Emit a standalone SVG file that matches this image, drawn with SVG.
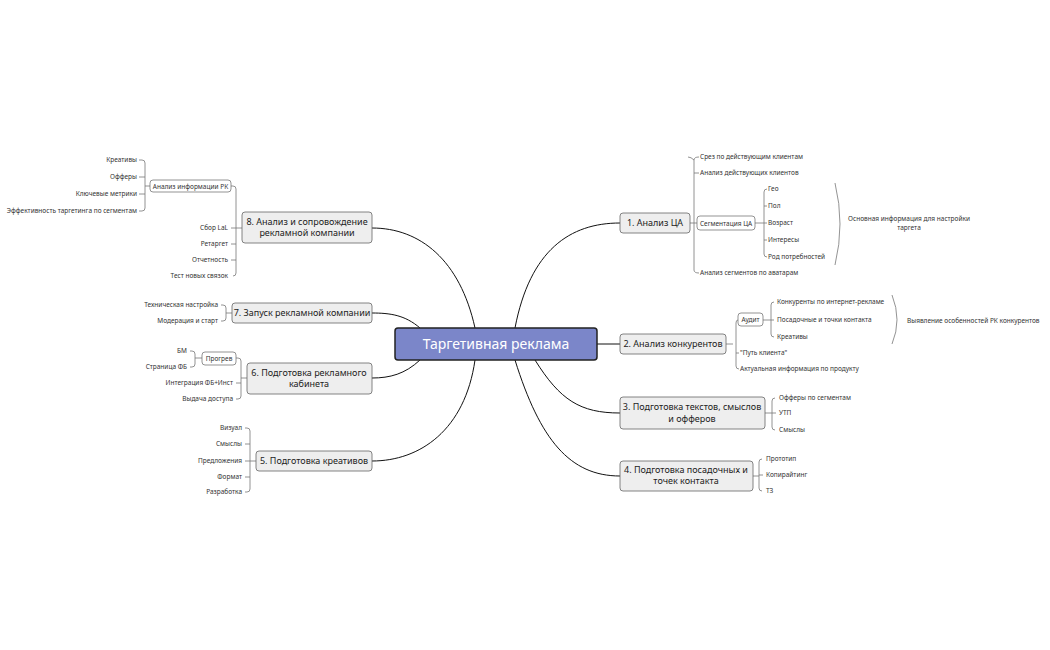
<svg xmlns="http://www.w3.org/2000/svg" width="1050" height="650" viewBox="0 0 1050 650">
<style>
text{font-family:"Noto Sans","Open Sans",sans-serif;fill:#333}
.m{font-size:9px;text-anchor:middle;fill:#222}
.s{font-size:6.5px}
.r{text-anchor:end}
.box{fill:#eeeeee;stroke:#666;stroke-width:0.8}
.sb{fill:#fff;stroke:#666;stroke-width:0.7}
.c{fill:none;stroke:#111;stroke-width:1}
.b{fill:none;stroke:#777;stroke-width:0.8}
</style>
<rect width="1050" height="650" fill="#fff"/>
<g id="connectors">
<path class="c" d="M515 328 C530 250 570 223 620 223"/>
<path class="c" d="M597 344 H620"/>
<path class="c" d="M535 360 C560 400 580 413 620 413"/>
<path class="c" d="M515 360 C540 440 570 476 620 476"/>
<path class="c" d="M475 328 C460 260 420 228 372 228"/>
<path class="c" d="M420 328 C405 315 390 313 372 313"/>
<path class="c" d="M420 360 C405 374 390 378 372 378"/>
<path class="c" d="M475 360 C465 430 420 461 372 461"/>
<!-- node1 -->
<path class="b" d="M690 223 H697 M694 160 Q691 157 688 157 M694 160 V270 M694 160 Q694 157 699 157 M694 173 H699 M694 270 Q694 273 699 273 M755 223 H764 M764 192 Q764 189 767 189 M764 192 V254 Q764 257 767 257 M764 206 H767 M764 223 H767 M764 240 H767 M835 183 Q845 224 835 265"/>
<!-- node2 -->
<path class="b" d="M726 344 H733 M736 323 V366 Q736 369 739 369 M736 323 Q736 320 738 320 M736 353 H739 M763 320 H771 M771 305 Q771 302 774 302 M771 305 V334 Q771 337 774 337 M771 320 H774 M892 295 Q902 320 892 344"/>
<!-- node3 -->
<path class="b" d="M765 413 H772 M772 401 Q772 398 775 398 M772 401 V427 Q772 430 775 430 M772 413 H776"/>
<!-- node4 -->
<path class="b" d="M753 476 H759 M759 462 Q759 459 762 459 M759 462 V488 Q759 491 762 491 M759 475 H763"/>
<!-- node8 -->
<path class="b" d="M242 228 H236 M231 186 H233 Q236 186 236 189 V273 Q236 276 233 276 M236 228 H231 M236 244 H231 M236 260 H231 M150 186 H145 M139 160 H142 Q145 160 145 163 V208 Q145 211 142 211 H139 M145 177 H139 M145 194 H139"/>
<!-- node7 -->
<path class="b" d="M232 313 H226 M221 305 H223 Q226 305 226 308 V318 Q226 321 223 321 H221"/>
<!-- node6 -->
<path class="b" d="M247 378 H241 M236 358 H238 Q241 358 241 361 V396 Q241 399 238 399 H236 M241 383 H236 M202 358 H195 M190 351 H192 Q195 351 195 354 V364 Q195 367 192 367 H190"/>
<!-- node5 -->
<path class="b" d="M256 461 H250 M245 428 H247 Q250 428 250 431 V489 Q250 492 247 492 H245 M250 444 H245 M250 461 H245 M250 477 H245"/>
</g>
<g id="center"><rect x="395" y="328" width="202" height="32" rx="3" fill="#7b86c9" stroke="#222" stroke-width="1.5"/><text x="496" y="349" font-size="14" text-anchor="middle" style="fill:#fff">Таргетивная реклама</text></g>
<g id="n1"><rect class="box" x="620" y="213" width="70" height="20" rx="3"/><text class="m" x="655" y="226">1. Анализ ЦА</text></g>
<g id="n2"><rect class="box" x="620" y="334" width="106" height="20" rx="3"/><text class="m" x="673" y="347">2. Анализ конкурентов</text></g>
<g id="n3"><rect class="box" x="620" y="397" width="145" height="32" rx="3"/><text class="m" x="692" y="410">3. Подготовка текстов, смыслов</text><text class="m" x="692" y="422">и офферов</text></g>
<g id="n4"><rect class="box" x="620" y="461" width="133" height="30" rx="3"/><text class="m" x="686" y="473">4. Подготовка посадочных и</text><text class="m" x="686" y="484">точек контакта</text></g>
<g id="n5"><rect class="box" x="256" y="451" width="116" height="20" rx="3"/><text class="m" x="314" y="464">5. Подготовка креативов</text></g>
<g id="n6"><rect class="box" x="247" y="363" width="125" height="31" rx="3"/><text class="m" x="309" y="376">6. Подготовка рекламного</text><text class="m" x="309" y="387">кабинета</text></g>
<g id="n7"><rect class="box" x="232" y="303" width="140" height="20" rx="3"/><text class="m" x="302" y="316">7. Запуск рекламной компании</text></g>
<g id="n8"><rect class="box" x="242" y="212" width="130" height="31" rx="3"/><text class="m" x="307" y="225">8. Анализ и сопровождение</text><text class="m" x="307" y="236">рекламной компании</text></g>
<g id="n1c" class="s">
<text class="s" x="700" y="159">Срез по действующим клиентам</text>
<text class="s" x="700" y="175">Анализ действующих клиентов</text>
<rect class="sb" x="697" y="216" width="58" height="14" rx="3"/><text class="s" x="726" y="225.5" text-anchor="middle">Сегментация ЦА</text>
<text class="s" x="700" y="275">Анализ сегментов по аватарам</text>
<text class="s" x="768" y="191">Гео</text><text class="s" x="768" y="208">Пол</text><text class="s" x="768" y="225">Возраст</text><text class="s" x="768" y="242">Интересы</text><text class="s" x="768" y="259">Род потребностей</text>
<text class="s" x="909" y="221" text-anchor="middle">Основная информация для настройки</text><text class="s" x="909" y="230" text-anchor="middle">таргета</text>
</g>
<g id="n2c">
<rect class="sb" x="738" y="313" width="25" height="13" rx="3"/><text class="s" x="750.5" y="322" text-anchor="middle">Аудит</text>
<text class="s" x="740" y="355">"Путь клиента"</text>
<text class="s" x="740" y="371">Актуальная информация по продукту</text>
<text class="s" x="777" y="304">Конкуренты по интернет-рекламе</text><text class="s" x="777" y="322">Посадочные и точки контакта</text><text class="s" x="777" y="339">Креативы</text>
<text class="s" x="907" y="323">Выявление особенностей РК конкурентов</text>
</g>
<g id="n3c"><text class="s" x="779" y="400">Офферы по сегментам</text><text class="s" x="779" y="415">УТП</text><text class="s" x="779" y="432">Смыслы</text></g>
<g id="n4c"><text class="s" x="766" y="461">Прототип</text><text class="s" x="766" y="477">Копирайтинг</text><text class="s" x="766" y="493">ТЗ</text></g>
<g id="n8c">
<rect class="sb" x="150" y="180" width="81" height="12" rx="3"/><text class="s" x="190.5" y="188.5" text-anchor="middle">Анализ информации РК</text>
<text class="s r" x="228" y="230">Сбор LaL</text><text class="s r" x="228" y="246">Ретаргет</text><text class="s r" x="228" y="262">Отчетность</text><text class="s r" x="228" y="278">Тест новых связок</text>
<text class="s r" x="137" y="162">Креативы</text><text class="s r" x="137" y="179">Офферы</text><text class="s r" x="137" y="196">Ключевые метрики</text><text class="s r" x="137" y="213">Эффективность таргетинга по сегментам</text>
</g>
<g id="n7c"><text class="s r" x="218" y="307">Техническая настройка</text><text class="s r" x="218" y="323">Модерация и старт</text></g>
<g id="n6c">
<rect class="sb" x="202" y="352" width="34" height="13" rx="3"/><text class="s" x="219" y="361" text-anchor="middle">Прогрев</text>
<text class="s r" x="233" y="385">Интеграция ФБ+Инст</text><text class="s r" x="233" y="401">Выдача доступа</text>
<text class="s r" x="187" y="353">БМ</text><text class="s r" x="187" y="369">Страница ФБ</text>
</g>
<g id="n5c"><text class="s r" x="242" y="430">Визуал</text><text class="s r" x="242" y="446">Смыслы</text><text class="s r" x="242" y="463">Предложения</text><text class="s r" x="242" y="479">Формат</text><text class="s r" x="242" y="494">Разработка</text></g>
</svg>
